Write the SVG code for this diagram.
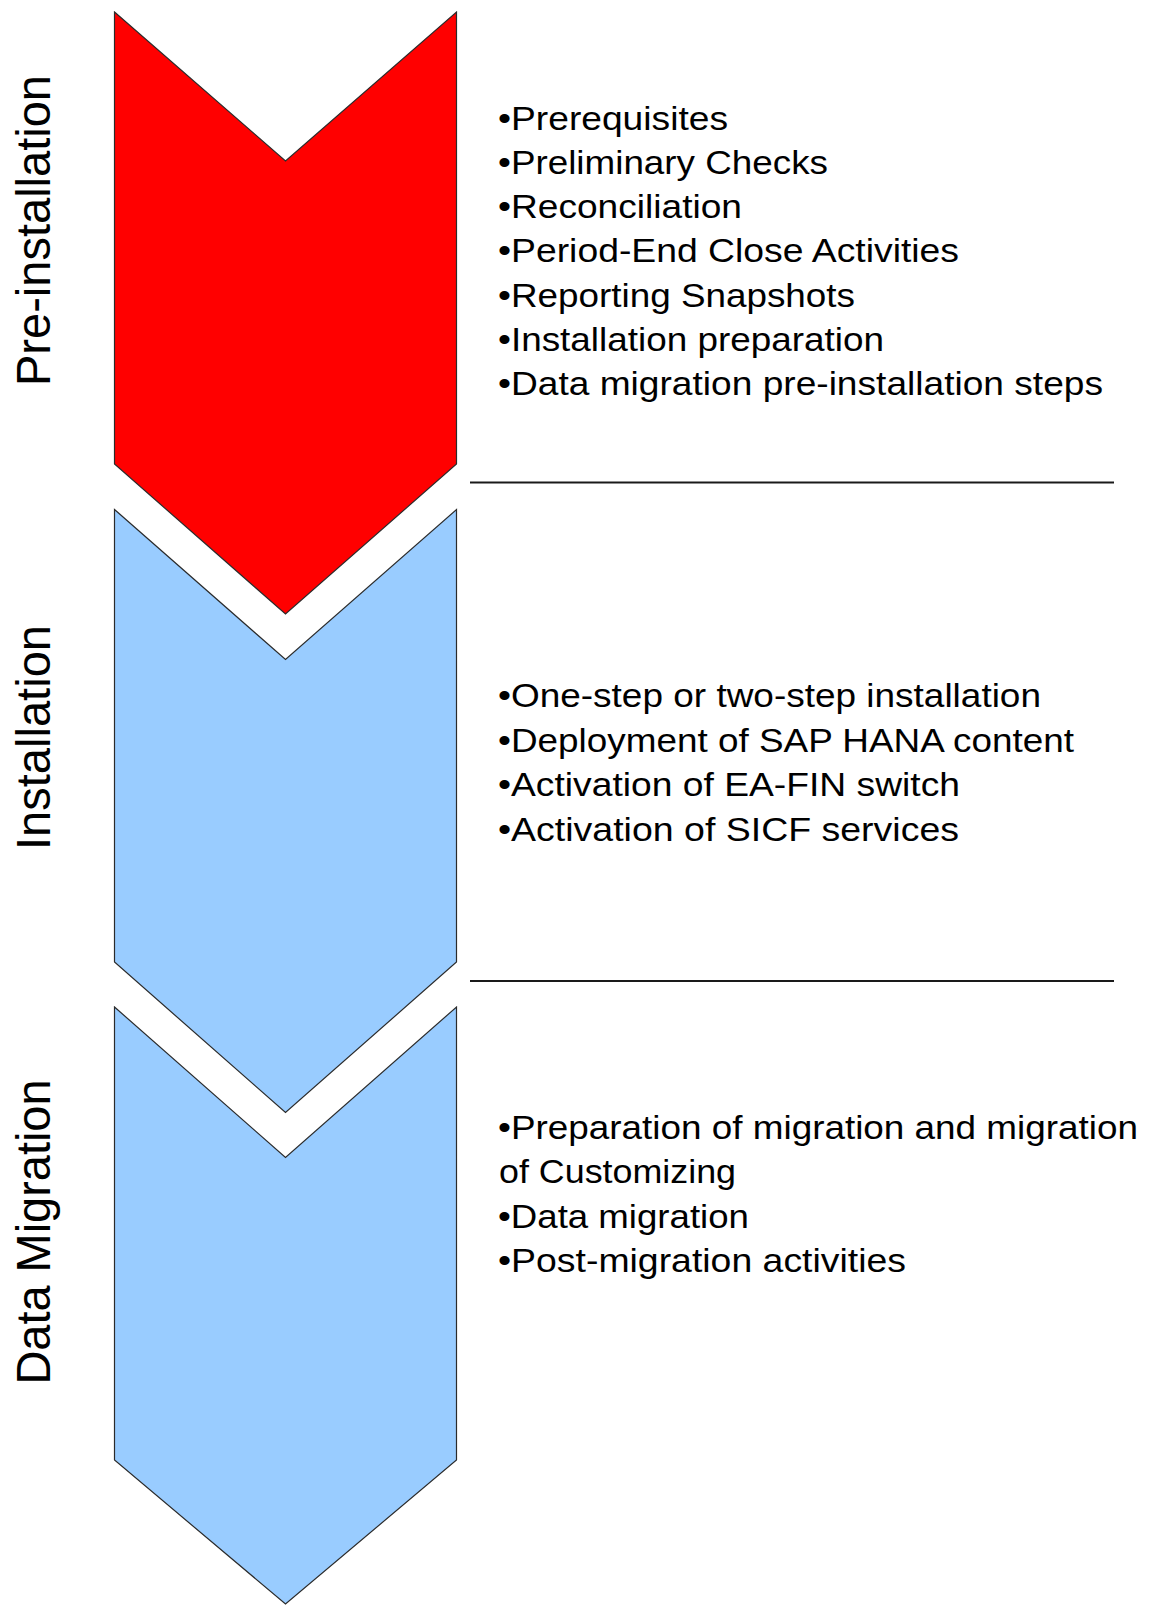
<svg xmlns="http://www.w3.org/2000/svg" width="1149" height="1605" viewBox="0 0 1149 1605">
<style>
  .chev { stroke: #2b2b2b; stroke-width: 1.2; stroke-linejoin: miter; }
  .red { fill: #FF0000; }
  .blue { fill: #99CCFF; }
  .phase { font-family: "Liberation Sans", Arial, sans-serif; font-size: 48px; fill: #000; }
  .item { font-family: "Liberation Sans", Arial, sans-serif; font-size: 32.5px; fill: #000; }
  .sep { stroke: #1a1a1a; stroke-width: 2; fill: none; }
</style>
<rect x="0" y="0" width="1149" height="1605" fill="#FFFFFF"/>

<g id="node-preinstallation">
  <polygon class="chev red" points="114.5,12 285.5,161 456.5,12 456.5,464 285.5,614 114.5,464"/>
  <text class="phase" transform="translate(49.5,386) rotate(-90)" x="0" y="0" textLength="311" lengthAdjust="spacingAndGlyphs">Pre-installation</text>
  <g id="list-preinstallation">
    <text class="item" x="498" y="129.5" textLength="230" lengthAdjust="spacingAndGlyphs">•Prerequisites</text>
    <text class="item" x="498" y="173.75" textLength="330" lengthAdjust="spacingAndGlyphs">•Preliminary Checks</text>
    <text class="item" x="498" y="218" textLength="244" lengthAdjust="spacingAndGlyphs">•Reconciliation</text>
    <text class="item" x="498" y="262.25" textLength="461" lengthAdjust="spacingAndGlyphs">•Period-End Close Activities</text>
    <text class="item" x="498" y="306.5" textLength="357" lengthAdjust="spacingAndGlyphs">•Reporting Snapshots</text>
    <text class="item" x="498" y="350.75" textLength="386" lengthAdjust="spacingAndGlyphs">•Installation preparation</text>
    <text class="item" x="498" y="395" textLength="605" lengthAdjust="spacingAndGlyphs">•Data migration pre-installation steps</text>
  </g>
</g>

<g id="node-installation">
  <polygon class="chev blue" points="114.5,509.5 285.5,659.5 456.5,509.5 456.5,962 285.5,1112.5 114.5,962"/>
  <text class="phase" transform="translate(49.5,850) rotate(-90)" x="0" y="0" textLength="225" lengthAdjust="spacingAndGlyphs">Installation</text>
  <g id="list-installation">
    <text class="item" x="498" y="707" textLength="543" lengthAdjust="spacingAndGlyphs">•One-step or two-step installation</text>
    <text class="item" x="498" y="751.5" textLength="576" lengthAdjust="spacingAndGlyphs">•Deployment of SAP HANA content</text>
    <text class="item" x="498" y="796" textLength="462" lengthAdjust="spacingAndGlyphs">•Activation of EA-FIN switch</text>
    <text class="item" x="498" y="840.5" textLength="461" lengthAdjust="spacingAndGlyphs">•Activation of SICF services</text>
  </g>
</g>

<g id="node-datamigration">
  <polygon class="chev blue" points="114.5,1007 285.5,1157.5 456.5,1007 456.5,1460 285.5,1604 114.5,1460"/>
  <text class="phase" transform="translate(49.5,1384.5) rotate(-90)" x="0" y="0" textLength="305" lengthAdjust="spacingAndGlyphs">Data Migration</text>
  <g id="list-datamigration">
    <text class="item" x="498" y="1139" textLength="640" lengthAdjust="spacingAndGlyphs">•Preparation of migration and migration</text>
    <text class="item" x="499" y="1183" textLength="237" lengthAdjust="spacingAndGlyphs">of Customizing</text>
    <text class="item" x="498" y="1227.5" textLength="251" lengthAdjust="spacingAndGlyphs">•Data migration</text>
    <text class="item" x="498" y="1272" textLength="408" lengthAdjust="spacingAndGlyphs">•Post-migration activities</text>
  </g>
</g>

<g id="connectors">
  <line class="sep" x1="470" y1="482.5" x2="1114" y2="482.5"/>
  <line class="sep" x1="470" y1="981" x2="1114" y2="981"/>
</g>
</svg>
